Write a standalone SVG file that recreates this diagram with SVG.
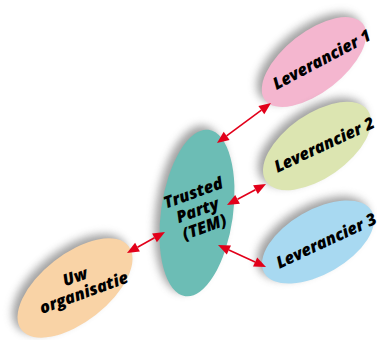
<svg xmlns="http://www.w3.org/2000/svg" width="377" height="340" viewBox="0 0 377 340">
<style>
.lbl{font-family:"Open Sans","Liberation Sans",sans-serif;font-weight:800;font-style:italic;font-size:16.5px;fill:#000;}
.conn{stroke:#e2001a;stroke-width:1.6;fill:none;}
.head{fill:#e2001a;}
.shadow{fill:#555;opacity:0.55;}
</style>
<defs>
<filter id="blur" x="-30%" y="-30%" width="160%" height="160%">
<feGaussianBlur stdDeviation="4"/>
</filter>
</defs>
<g id="uw-organisatie">
<ellipse class="shadow" cx="70" cy="284" rx="68" ry="34" transform="rotate(-38 70 284)" filter="url(#blur)"/>
<ellipse cx="75" cy="288" rx="68" ry="34" transform="rotate(-38 75 288)" fill="#f9d3a6"/>
<g transform="translate(78,287) rotate(-20)"><text class="lbl" x="-12" y="-5">Uw</text><text class="lbl" x="-43" y="13">organisatie</text></g>
</g>
<g id="trusted-party">
<ellipse class="shadow" cx="192" cy="209" rx="36" ry="84" transform="rotate(8 192 209)" filter="url(#blur)"/>
<ellipse cx="197" cy="213" rx="36" ry="84" transform="rotate(8 197 213)" fill="#6cbdb5"/>
<g transform="translate(198,212) rotate(-20)"><text class="lbl" x="-29" y="-14">Trusted</text><text class="lbl" x="-22" y="4">Party</text><text class="lbl" x="-22" y="22">(TEM)</text></g>
</g>
<g id="leverancier-1">
<ellipse class="shadow" cx="309" cy="58" rx="62" ry="30" transform="rotate(-38 309 58)" filter="url(#blur)"/>
<ellipse cx="314" cy="62" rx="62" ry="30" transform="rotate(-38 314 62)" fill="#f4b6cf"/>
<g transform="translate(318,68) rotate(-28)"><text class="lbl" x="-47" y="0">Leverancier 1</text></g>
</g>
<g id="leverancier-2">
<ellipse class="shadow" cx="312" cy="142" rx="62" ry="32" transform="rotate(-35 312 142)" filter="url(#blur)"/>
<ellipse cx="317" cy="146" rx="62" ry="32" transform="rotate(-35 317 146)" fill="#dce5b1"/>
<g transform="translate(320,153) rotate(-25)"><text class="lbl" x="-47" y="0">Leverancier 2</text></g>
</g>
<g id="leverancier-3">
<ellipse class="shadow" cx="313" cy="238" rx="62" ry="32" transform="rotate(-30 313 238)" filter="url(#blur)"/>
<ellipse cx="318" cy="242" rx="62" ry="32" transform="rotate(-30 318 242)" fill="#a8d9f1"/>
<g transform="translate(322,249) rotate(-25)"><text class="lbl" x="-47" y="0">Leverancier 3</text></g>
</g>
<g id="connectors">
<line class="conn" x1="137.5" y1="247.2" x2="154.5" y2="237.8"/>
<polygon class="head" points="165,232 156.9,242.2 152.1,233.4"/>
<polygon class="head" points="127,253 139.9,251.6 135.1,242.8"/>
<line class="conn" x1="226.6" y1="135.9" x2="261.4" y2="110.1"/>
<polygon class="head" points="271,103 264.3,114.2 258.4,106.1"/>
<polygon class="head" points="217,143 229.6,139.9 223.7,131.8"/>
<line class="conn" x1="237.6" y1="199.3" x2="255.4" y2="189.7"/>
<polygon class="head" points="266,184 257.8,194.1 253.1,185.3"/>
<polygon class="head" points="227,205 239.9,203.7 235.2,194.9"/>
<line class="conn" x1="228.9" y1="250" x2="255.1" y2="262"/>
<polygon class="head" points="266,267 253,266.6 257.2,257.5"/>
<polygon class="head" points="218,245 226.8,254.6 231,245.5"/>
</g>
</svg>
